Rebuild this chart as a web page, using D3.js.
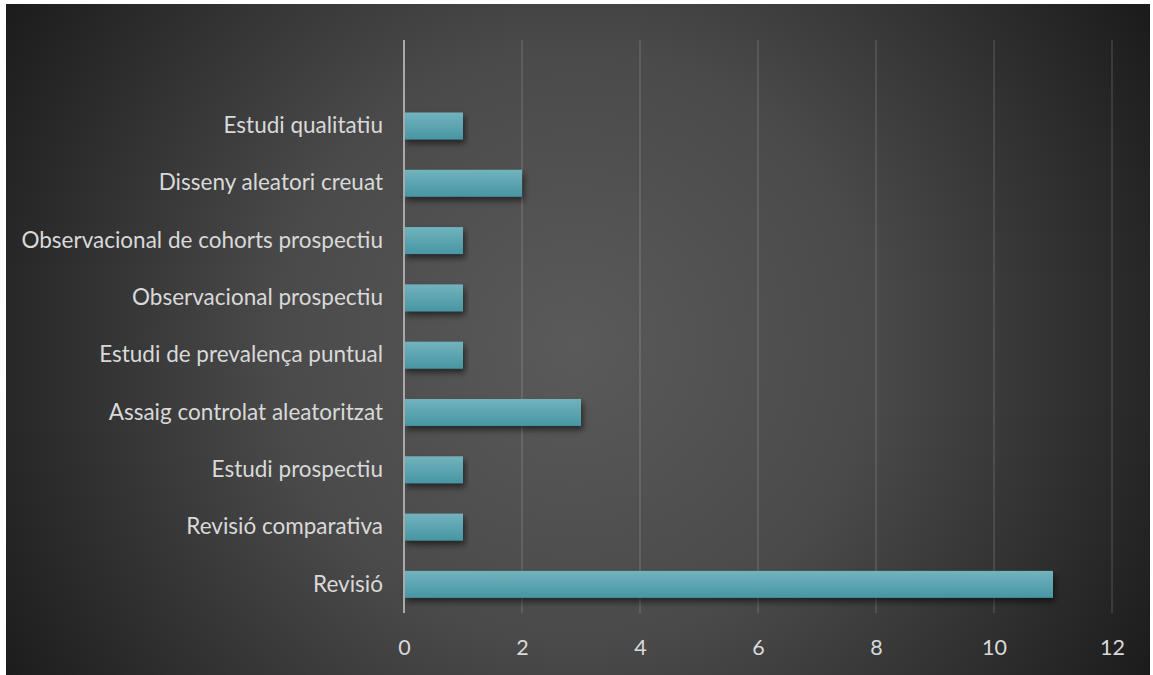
<!DOCTYPE html>
<html>
<head>
<meta charset="utf-8">
<script src="https://cdn.jsdelivr.net/npm/d3@7"></script>
<style>
  html, body { margin: 0; padding: 0; background: #fff; }
  svg { display: block; }
</style>
</head>
<body>
<svg id="chart" width="1153" height="675"></svg>
<script>
// categories, bottom to top as in the picture; "" is the empty slot at the top
let categories = ["Revisió", "Revisió comparativa", "Estudi prospectiu", "Assaig controlat aleatoritzat",
                  "Estudi de prevalença puntual", "Observacional prospectiu",
                  "Observacional de cohorts prospectiu", "Disseny aleatori creuat", "Estudi qualitatiu", ""];
let values = [11, 1, 1, 3, 1, 1, 1, 2, 1, null];
let ticks = [0, 2, 4, 6, 8, 10, 12];

let svg    = d3.select("#chart"),
    margin = {top: 40, right: 41, bottom: 62, left: 404},
    width  = +svg.attr("width") - margin.left - margin.right,
    height = +svg.attr("height") - margin.top - margin.bottom;

let defs = svg.append("defs");

let bg = defs.append("radialGradient")
    .attr("id", "bg")
    .attr("gradientUnits", "userSpaceOnUse")
    .attr("cx", 575).attr("cy", 345).attr("r", 660);
bg.append("stop").attr("offset", "0%").attr("stop-color", "#5a5a5a");
bg.append("stop").attr("offset", "45%").attr("stop-color", "#4a4a4a");
bg.append("stop").attr("offset", "100%").attr("stop-color", "#1c1c1c");

let barGrad = defs.append("linearGradient")
    .attr("id", "bar").attr("x1", 0).attr("y1", 0).attr("x2", 0).attr("y2", 1);
barGrad.append("stop").attr("offset", "0%").attr("stop-color", "#72b3bd");
barGrad.append("stop").attr("offset", "100%").attr("stop-color", "#4796a4");

let shadow = defs.append("filter").attr("id", "shadow")
    .attr("x", "-5%").attr("y", "-30%").attr("width", "115%").attr("height", "180%");
shadow.append("feDropShadow")
    .attr("dx", 2).attr("dy", 4).attr("stdDeviation", 3)
    .attr("flood-color", "#000").attr("flood-opacity", 0.55);

svg.append("rect")
   .attr("x", 6).attr("y", 4)
   .attr("width", 1144).attr("height", 671)
   .attr("fill", "url(#bg)");

let g = svg.append("g").attr("transform", `translate(${margin.left},${margin.top})`);

let x = d3.scaleLinear().domain([0, 12]).range([0, width]);
let y = d3.scaleBand().domain(categories).range([height, 0]).paddingInner(0.53).paddingOuter(0.265);

// gridlines
g.selectAll(".grid")
 .data(ticks.slice(1))
 .enter().append("line")
 .attr("class", "grid")
 .attr("x1", d => x(d)).attr("x2", d => x(d))
 .attr("y1", 0).attr("y2", height)
 .attr("stroke", "#fff")
 .attr("stroke-opacity", 0.11)
 .attr("stroke-width", 2);

// bars
let data = categories.map((c, i) => ({cat: c, v: values[i]})).filter(d => d.v != null);
g.selectAll(".bar")
 .data(data)
 .enter().append("rect")
 .attr("class", "bar")
 .attr("x", x(0))
 .attr("y", d => y(d.cat))
 .attr("width", d => x(d.v) - x(0))
 .attr("height", y.bandwidth())
 .attr("fill", "url(#bar)")
 .attr("filter", "url(#shadow)");

// value axis line
g.append("line")
 .attr("x1", x(0)).attr("x2", x(0))
 .attr("y1", 0).attr("y2", height)
 .attr("stroke", "#a9a9a9")
 .attr("stroke-width", 2);

// x axis labels
let xAxis = g.append("g")
 .attr("transform", `translate(0,${height})`)
 .call(d3.axisBottom(x).tickValues(ticks).tickSize(0).tickPadding(27));
xAxis.select(".domain").remove();
xAxis.selectAll("text")
 .attr("fill", "#d9d9d9")
 .attr("font-family", "Lato, 'Open Sans', sans-serif")
 .attr("font-size", 21.5);

// category labels
let yAxis = g.append("g")
 .call(d3.axisLeft(y).tickSize(0).tickPadding(21));
yAxis.select(".domain").remove();
yAxis.selectAll("text")
 .attr("fill", "#d9d9d9")
 .attr("font-family", "Lato, 'Open Sans', sans-serif")
 .attr("font-size", 22.5);
</script>
</body>
</html>
